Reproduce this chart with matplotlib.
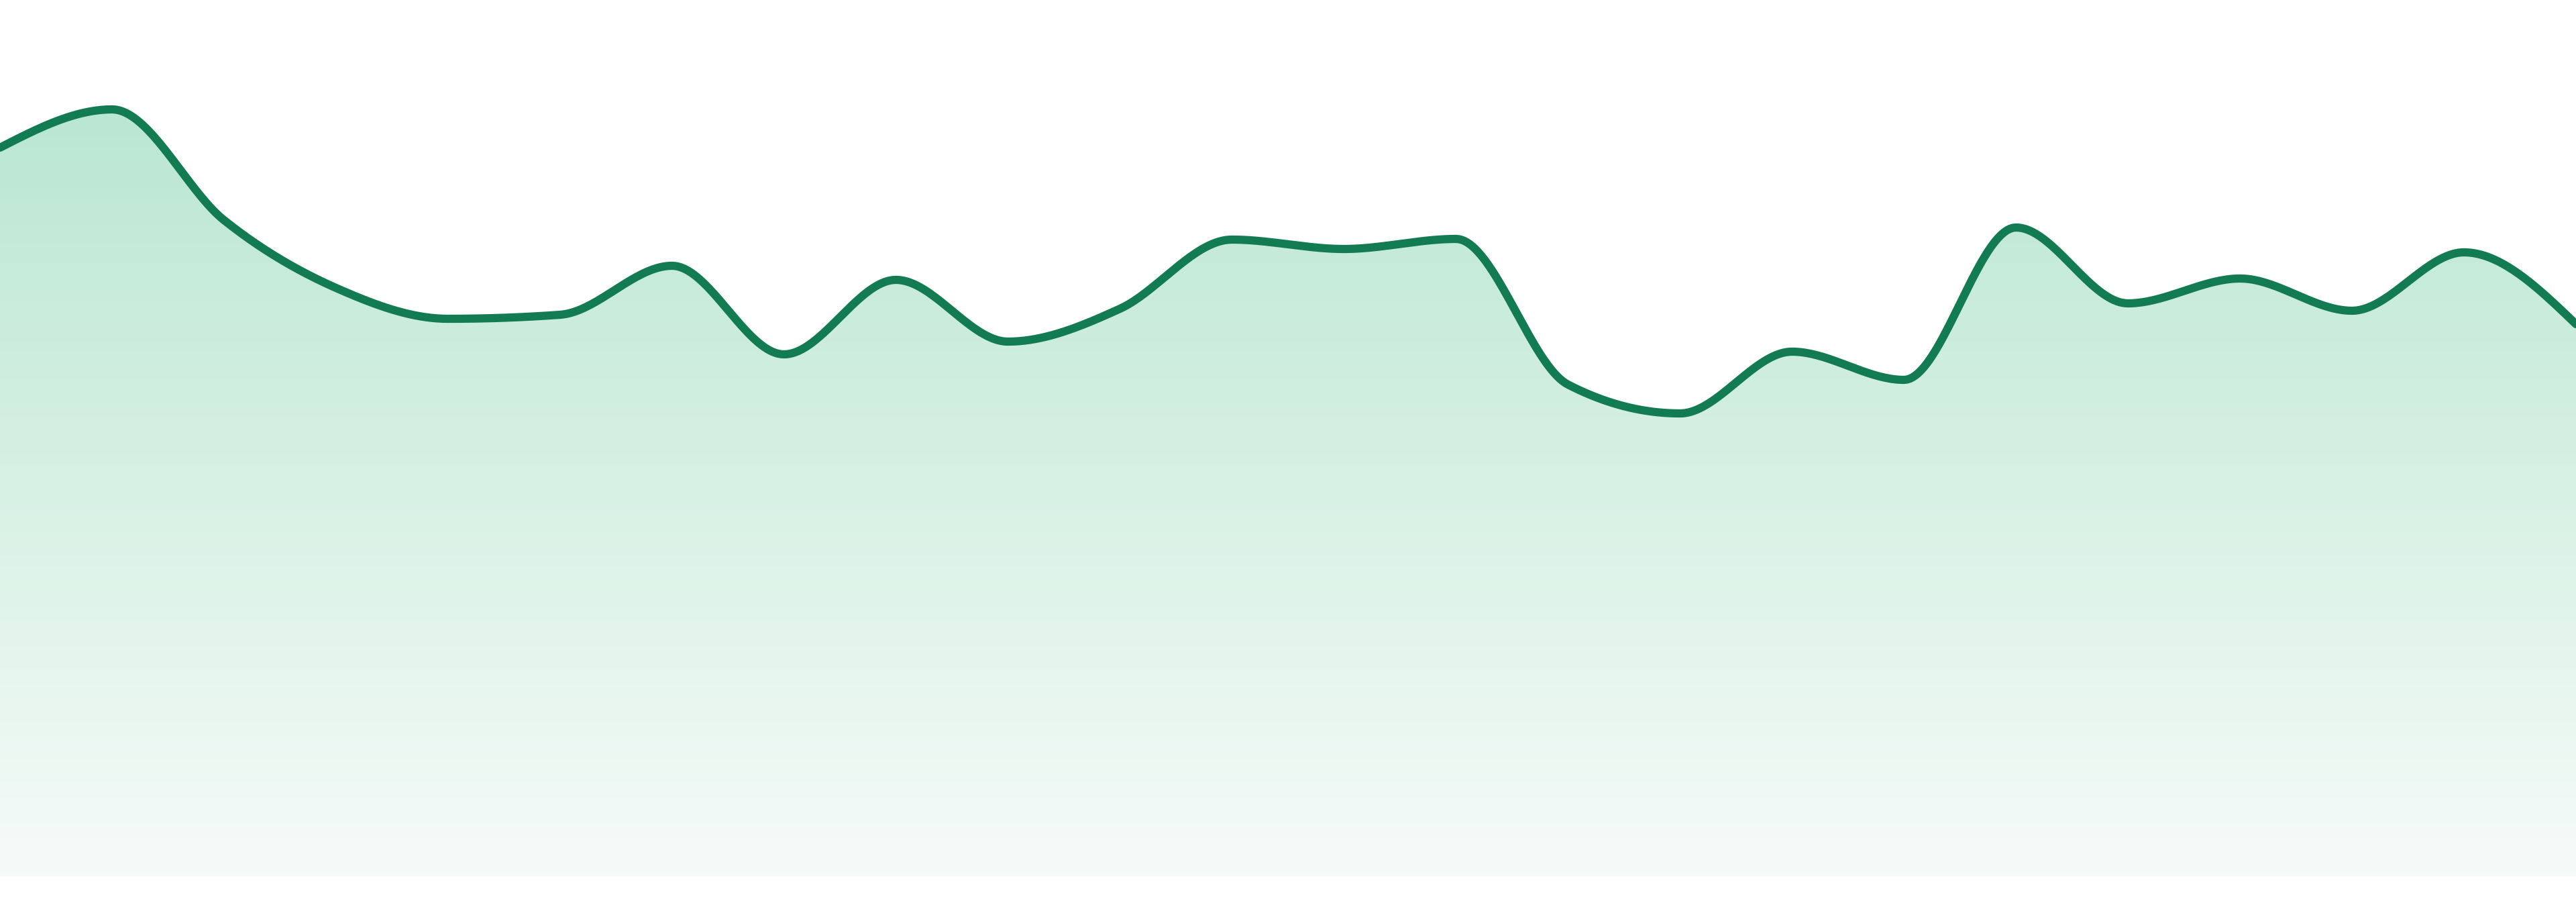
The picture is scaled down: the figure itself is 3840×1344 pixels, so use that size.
import matplotlib
matplotlib.use("Agg")
import matplotlib.pyplot as plt
import numpy as np
from matplotlib.colors import LinearSegmentedColormap

# values, one per step
steps = np.arange(24)
values = [108.6, 114.3, 97.8, 87.7, 83.1, 83.7, 91.0, 77.8, 88.9, 79.7, 84.6, 94.9,
          93.5, 95.0, 73.3, 69.0, 78.2, 74.0, 96.7, 85.4, 89.1, 84.3, 93.0, 82.3]

LINE = "#137b52"
TOP = "#bae7d1"
BOTTOM = "#f6fbf9"


def monotone(x, y, n=40):
    # monotone cubic (like d3 curveMonotoneX), only used for drawing the curve
    x = np.asarray(x, float)
    y = np.asarray(y, float)
    h = np.diff(x)
    s = np.diff(y) / h
    t = np.zeros_like(y)
    for i in range(1, len(y) - 1):
        s0, s1 = s[i - 1], s[i]
        p = (s0 * h[i] + s1 * h[i - 1]) / (h[i - 1] + h[i])
        t[i] = (np.sign(s0) + np.sign(s1)) * min(abs(s0), abs(s1), 0.5 * abs(p))
    t[0] = (3 * s[0] - t[1]) / 2
    t[-1] = (3 * s[-1] - t[-2]) / 2
    xs, ys = [], []
    for i in range(len(h)):
        u = np.linspace(0, 1, n, endpoint=(i == len(h) - 1))
        h00 = 2 * u**3 - 3 * u**2 + 1
        h10 = u**3 - 2 * u**2 + u
        h01 = -2 * u**3 + 3 * u**2
        h11 = u**3 - u**2
        xs.append(x[i] + u * h[i])
        ys.append(h00 * y[i] + h10 * h[i] * t[i] + h01 * y[i + 1] + h11 * h[i] * t[i + 1])
    return np.concatenate(xs), np.concatenate(ys)


fig = plt.figure(figsize=(38.4, 13.44), dpi=100)
ax = fig.add_axes([0, 0, 1, 1])
ax.axis("off")

xs, ys = monotone(steps, values)

# gradient area under the curve
cmap = LinearSegmentedColormap.from_list("fade", [BOTTOM, TOP])
grad = np.linspace(0, 1, 256).reshape(-1, 1)
img = ax.imshow(grad, cmap=cmap, aspect="auto", origin="lower",
                extent=[steps[0], steps[-1], 0, max(values)], zorder=1)
area = ax.fill_between(xs, ys, 0, color="none")
path = area.get_paths()[0]
img.set_clip_path(path, transform=ax.transData)

ax.plot(xs, ys, color=LINE, linewidth=8.8, solid_capstyle="round", zorder=3)

# imshow resets the limits, so set them last
ax.set_xlim(steps[0], steps[-1])
ax.set_ylim(-3.8, 130.6)

fig.savefig("out.png", dpi=100, facecolor="white")
